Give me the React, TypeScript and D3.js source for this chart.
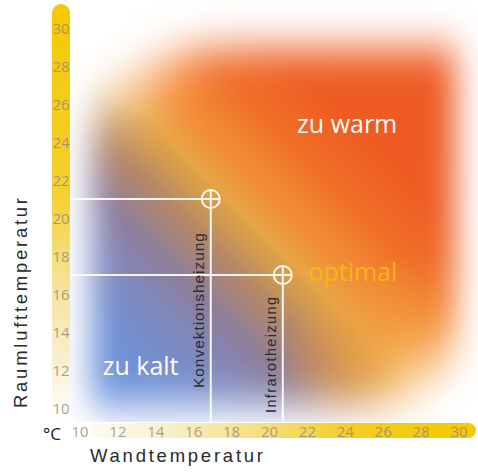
import * as d3 from "d3";

const tempTicks = [10, 12, 14, 16, 18, 20, 22, 24, 26, 28, 30];
const heaterNames = ["Konvektionsheizung", "Infrarotheizung"];
const heaterWall = [16.9, 20.7];
const heaterAir = [21, 17];
const zoneNames = ["zu warm", "optimal", "zu kalt"];
const zoneWall = [24.1, 24.4, 13.2];
const zoneAir = [24.5, 16.7, 11.75];

const width = 478;
const height = 473;
const left = 70;
const bottom = 422;
const font = "'Open Sans', sans-serif";
const labelFont = "'Liberation Sans', Arial, sans-serif";

// colour field across the diagonal, from "cold" to "hot"
const fieldStops = [
  [0, "#6a90dc"],
  [0.13, "#7090d4"],
  [0.25, "#8088bc"],
  [0.34, "#8e7e9a"],
  [0.44, "#b48868"],
  [0.5, "#d09852"],
  [0.555, "#e9a444"],
  [0.63, "#f28c34"],
  [0.75, "#f06e28"],
  [0.88, "#ee5c22"],
  [1, "#ee5a22"],
];

const Ticks = ({ x, y }) => (
  <g fontFamily={font} fontSize="15" fill="#8e8a80" fillOpacity="0.8" textAnchor="middle">
    {tempTicks.map((t) => (
      <text key={"y" + t} x={61} y={y(t)} dominantBaseline="central">
        {t}
      </text>
    ))}
    {tempTicks.map((t) => (
      <text key={"x" + t} x={x(t)} y={431} dominantBaseline="central">
        {t}
      </text>
    ))}
  </g>
);

export default function App() {
  const x = d3.scaleLinear().domain([10, 30]).range([80, 459]);
  const y = d3.scaleLinear().domain([10, 30]).range([408, 28]);
  const r = 9;

  return (
    <svg
      width={width}
      height={height}
      style={{ position: "absolute", left: 0, top: 0, background: "#fff" }}
    >
      <defs>
        <linearGradient id="field" gradientUnits="userSpaceOnUse" x1="100" y1="400" x2="400" y2="100">
          {fieldStops.map(([o, c]) => (
            <stop key={o} offset={o} stopColor={c} />
          ))}
        </linearGradient>
        <radialGradient id="warmCorner" gradientUnits="userSpaceOnUse" cx="410" cy="390" r="135">
          <stop offset="0" stopColor="#f4aa44" stopOpacity="0.85" />
          <stop offset="0.55" stopColor="#f3a040" stopOpacity="0.45" />
          <stop offset="1" stopColor="#f39a3c" stopOpacity="0" />
        </radialGradient>
        <filter id="soft" filterUnits="userSpaceOnUse" x="-100" y="-100" width="700" height="700">
          <feGaussianBlur stdDeviation="16 21" />
        </filter>
        <filter id="softer" filterUnits="userSpaceOnUse" x="-200" y="-200" width="900" height="900">
          <feGaussianBlur stdDeviation="30" />
        </filter>
        <mask id="fieldMask" maskUnits="userSpaceOnUse" x="0" y="0" width={width} height={bottom}>
          <rect x={91} y={48} width={365} height={358} fill="#fff" filter="url(#soft)" />
          <ellipse cx={60} cy={0} rx={125} ry={115} fill="#000" filter="url(#softer)" />
          <ellipse cx={478} cy={425} rx={85} ry={75} fill="#000" filter="url(#softer)" />
        </mask>
        <linearGradient id="yBar" x1="0" y1="0" x2="0" y2="1">
          <stop offset="0" stopColor="#f6c800" />
          <stop offset="0.45" stopColor="#f5d030" />
          <stop offset="0.65" stopColor="#f5e190" />
          <stop offset="0.85" stopColor="#f8efd0" />
          <stop offset="1" stopColor="#ffffff" />
        </linearGradient>
        <linearGradient id="xBar" gradientUnits="userSpaceOnUse" x1="70" y1="0" x2="478" y2="0">
          <stop offset="0" stopColor="#ffffff" />
          <stop offset="0.25" stopColor="#f9efc8" />
          <stop offset="0.5" stopColor="#f6dc70" />
          <stop offset="0.7" stopColor="#f5cc20" />
          <stop offset="1" stopColor="#f6c800" />
        </linearGradient>
      </defs>

      <g mask="url(#fieldMask)">
        <rect x={left} y={0} width={width - left} height={bottom} fill="url(#field)" />
        <rect x={left} y={0} width={width - left} height={bottom} fill="url(#warmCorner)" />
      </g>

      <rect x={52} y={4} width={18} height={bottom - 4} rx={9} fill="url(#yBar)" />
      <rect x={70} y={423} width={406} height={15} rx={7.5} fill="url(#xBar)" />
      <rect x={70} y={423} width={20} height={15} fill="#fff" />

      <Ticks x={x} y={y} />
      <text x={52} y={440} fontFamily={font} fontSize="17" fill="#222" textAnchor="middle">
        °C
      </text>

      {heaterNames.map((name, i) => {
        const cx = x(heaterWall[i]);
        const cy = y(heaterAir[i]);
        return (
          <g key={name} stroke="#fff" strokeWidth="2" fill="none" strokeOpacity="0.92">
            <line x1={left} y1={cy} x2={cx + r} y2={cy} />
            <line x1={cx} y1={cy - r} x2={cx} y2={bottom} />
            <circle cx={cx} cy={cy} r={r} />
          </g>
        );
      })}
      {heaterNames.map((name, i) => {
        const cx = x(heaterWall[i]) - 7;
        const len = i === 0 ? 155 : 116;
        const sy = i === 0 ? 388 : 413;
        return (
          <text
            key={name + "t"}
            transform={`translate(${cx},${sy}) rotate(-90)`}
            fontFamily={labelFont}
            fontSize={i === 0 ? 15.5 : 14.5}
            fill="#2b2b2b"
            textLength={len}
            lengthAdjust="spacing"
          >
            {name}
          </text>
        );
      })}

      {zoneNames.map((name, i) => (
        <text
          key={name}
          x={x(zoneWall[i])}
          y={y(zoneAir[i])}
          textAnchor="middle"
          fontFamily={font}
          fontSize="25"
          fill={i === 1 ? "#f7b51c" : "#fffaf4"}
        >
          {name}
        </text>
      ))}

      <text
        transform="translate(27,408) rotate(-90)"
        fontFamily={labelFont}
        fontSize="18.5"
        fill="#2b2b2b"
        textLength={210}
        lengthAdjust="spacing"
      >
        Raumlufttemperatur
      </text>
      <text
        x={90}
        y={462}
        fontFamily={labelFont}
        fontSize="18.5"
        fill="#2b2b2b"
        textLength={173}
        lengthAdjust="spacing"
      >
        Wandtemperatur
      </text>
    </svg>
  );
}
